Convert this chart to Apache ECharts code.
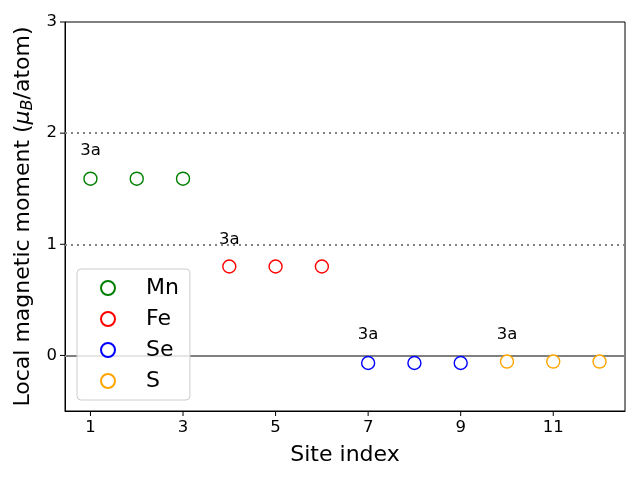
<!DOCTYPE html>
<html><head><meta charset="utf-8">
<script src="https://cdn.jsdelivr.net/npm/echarts@6/dist/echarts.min.js"></script>
<style>html,body{margin:0;padding:0;background:#fff}#c{width:640px;height:480px}</style>
</head><body><div id="c"></div>
<script>
const seriesNames = ['Mn', 'Fe', 'Se', 'S'];
const seriesColors = ['#008000', '#ff0000', '#0000ff', '#ffa500'];
const siteIdx = [[1, 2, 3], [4, 5, 6], [7, 8, 9], [10, 11, 12]];
const moments = [[1.59, 1.59, 1.59], [0.80, 0.80, 0.80], [-0.068, -0.068, -0.068], [-0.055, -0.055, -0.055]];
const annX = [1, 4, 7, 10];
const annY = [1.84, 1.04, 0.19, 0.19];
const annText = ['3a', '3a', '3a', '3a'];
const xTicks = [1, 3, 5, 7, 9, 11];
const yTicks = [0, 1, 2, 3];
const dottedLines = [1, 2];
const solidLine = 0;
const X_MIN = 0.45, X_MAX = 12.55, Y_MIN = -0.5, Y_MAX = 3;

const FONT = 'DejaVu Sans';
const chart = echarts.init(document.getElementById('c'), null, {renderer: 'canvas'});

const series = seriesNames.map((name, i) => ({
  name, type: 'scatter', symbol: 'circle', symbolSize: 13,
  data: siteIdx[i].map((x, j) => [x, moments[i][j]]),
  itemStyle: {color: '#fff', borderColor: seriesColors[i], borderWidth: 1.4, opacity: 1},
  z: 5
}));
series.push({
  type: 'scatter', name: 'ann', symbolSize: 1, silent: true,
  itemStyle: {opacity: 0},
  data: annX.map((x, i) => ({value: [x, annY[i]], label: {formatter: annText[i]}})),
  label: {show: true, position: 'inside', color: '#000', opacity: 1, fontSize: 16.5, fontFamily: FONT},
  markLine: {
    silent: true, symbol: 'none', label: {show: false}, animation: false,
    data: [
      ...dottedLines.map(v => ({yAxis: v, lineStyle: {color: '#808080', type: [2, 4], width: 2, opacity: 1}})),
      {yAxis: solidLine, lineStyle: {color: '#808080', type: 'solid', width: 2, opacity: 1}}
    ]
  },
  z: 3
});
// axis tick marks drawn through the axis scales
series.push({
  type: 'custom', name: 'xticks', silent: true, clip: false, z: 6,
  data: xTicks.map(v => [v, Y_MIN]),
  renderItem: (params, api) => {
    const p = api.coord([api.value(0), api.value(1)]);
    return {type: 'line', shape: {x1: p[0], y1: p[1], x2: p[0], y2: p[1] + 5}, style: {stroke: '#000', lineWidth: 1}};
  }
});
series.push({
  type: 'custom', name: 'yticks', silent: true, clip: false, z: 6,
  data: yTicks.map(v => [X_MIN, v]),
  renderItem: (params, api) => {
    const p = api.coord([api.value(0), api.value(1)]);
    return {type: 'line', shape: {x1: p[0], y1: p[1], x2: p[0] - 5, y2: p[1]}, style: {stroke: '#000', lineWidth: 1}};
  }
});

chart.setOption({
  animation: false,
  backgroundColor: '#fff',
  textStyle: {fontFamily: FONT},
  grid: {left: 65, right: 15, top: 22, bottom: 69, show: true, borderColor: '#000', borderWidth: 1, backgroundColor: 'transparent'},
  xAxis: {
    type: 'value', min: X_MIN, max: X_MAX,
    name: 'Site index', nameLocation: 'middle', nameGap: 33,
    nameTextStyle: {fontSize: 22, color: '#000', fontFamily: FONT},
    axisLine: {show: true, onZero: false, lineStyle: {color: '#000', width: 1}},
    axisTick: {show: false},
    axisLabel: {customValues: xTicks, color: '#000', fontSize: 16.5, fontFamily: FONT, margin: 8},
    splitLine: {show: false}
  },
  yAxis: {
    type: 'value', min: Y_MIN, max: Y_MAX,
    name: '{a|Local magnetic moment (}{mu|μ}{sub|B}{a|/atom)}', nameLocation: 'middle', nameGap: 23, nameRotate: 90,
    nameTextStyle: {fontSize: 22, color: '#000', fontFamily: FONT,
      rich: {
        a: {fontSize: 22, fontFamily: FONT, color: '#000'},
        mu: {fontSize: 22, fontFamily: FONT, fontStyle: 'italic', color: '#000'},
        sub: {fontSize: 16, fontFamily: FONT, fontStyle: 'italic', color: '#000', padding: [8, 0, 0, 0]}
      }},
    axisLine: {show: true, onZero: false, lineStyle: {color: '#000', width: 1}},
    axisTick: {show: false},
    axisLabel: {customValues: yTicks, color: '#000', fontSize: 16.5, fontFamily: FONT, margin: 8},
    splitLine: {show: false}
  },
  legend: {
    data: seriesNames, orient: 'vertical', left: 77, top: 269,
    padding: [8, 11, 8, 23], itemGap: 9, itemWidth: 14, itemHeight: 14,
    backgroundColor: 'rgba(255,255,255,0.8)', borderColor: '#cccccc', borderWidth: 1, borderRadius: 4,
    textStyle: {fontSize: 22, color: '#000', fontFamily: FONT, padding: [0, 0, 0, 26]},
    z: 10
  },
  series
});
</script></body></html>
